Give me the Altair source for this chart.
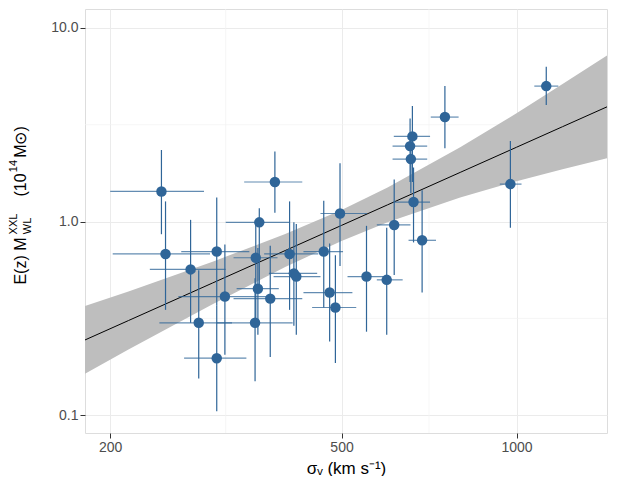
import altair as alt
import pandas as pd
import numpy as np

# velocity dispersion (km/s) and errors
sigma = [245, 249, 275, 305, 284, 305, 315, 361, 384, 356, 359, 355, 377, 407, 414, 418,
         466, 497, 477, 488, 552, 1125, 753, 662, 656, 658, 665, 688, 616, 598, 976]
sig_lo = [200, 202, 234, 265, 243, 268, 262, 316, 340, 326, 330, 305, 326, 368, 375, 382,
          430, 460, 430, 445, 512, 1073, 712, 615, 612, 612, 615, 652, 575, 575, 936]
sig_hi = [290, 297, 316, 347, 324, 343, 378, 407, 428, 388, 390, 412, 428, 456, 454, 460,
          503, 553, 522, 530, 592, 1180, 795, 710, 702, 702, 710, 727, 657, 637, 1020]
# E(z) M_WL (1e14 Msun) and errors
mass = [1.43, 0.68, 0.566, 0.70, 0.30, 0.197, 0.41, 0.99, 1.6, 0.65, 0.45, 0.30, 0.40, 0.68,
        0.54, 0.52, 0.70, 1.10, 0.43, 0.36, 0.52, 5.0, 3.46, 2.75, 2.45, 2.1, 1.26, 0.80,
        0.96, 0.50, 1.56]
m_lo = [0.86, 0.35, 0.30, 0.37, 0.155, 0.105, 0.205, 0.47, 1.11, 0.30, 0.26, 0.15, 0.20,
        0.35, 0.29, 0.26, 0.36, 0.59, 0.24, 0.186, 0.27, 4.0, 2.39, 1.6, 1.6, 1.4, 0.78,
        0.43, 0.53, 0.26, 0.93]
m_hi = [2.34, 1.27, 1.02, 1.33, 0.56, 0.37, 0.76, 1.17, 2.3, 1.0, 0.73, 0.51, 0.75, 1.27,
        0.99, 0.97, 1.28, 2.0, 0.77, 0.67, 0.95, 6.3, 5.0, 3.95, 3.4, 2.9, 1.9, 1.45, 1.65,
        0.93, 2.6]

# fit: log M = log(norm) + slope * log(sigma/500); band half width in dex
norm = 0.955
slope = 1.34
band_x = [181, 215, 300, 400, 500, 600, 800, 1000, 1200, 1431]
band_hw = [0.175, 0.15, 0.11, 0.085, 0.08, 0.09, 0.13, 0.175, 0.22, 0.265]

minor_x = [316, 707]
minor_y = [0.316, 3.16]

df = pd.DataFrame(dict(s=sigma, slo=sig_lo, shi=sig_hi, m=mass, mlo=m_lo, mhi=m_hi))
bx = np.array(band_x, dtype=float)
fit = norm * (bx / 500) ** slope
band = pd.DataFrame(dict(x=bx, y=fit, lo=fit / 10 ** np.array(band_hw),
                         hi=fit * 10 ** np.array(band_hw)))

xs = alt.Scale(type="log", domain=[181, 1431], nice=False)
ys = alt.Scale(type="log", domain=[0.081, 12.5], nice=False)
blue = "#2f6598"

xax = alt.Axis(values=[200, 500, 1000], format="d", title="σ\u1d65  (km s\u207b\u00b9)",
               titleFontSize=17, titleFontWeight="normal", titleColor="black",
               labelFontSize=14, labelColor="#4d4d4d", tickColor="#333",
               gridColor="#ebebeb", domain=False, titlePadding=6)
yax = alt.Axis(values=[0.1, 1, 10], format=".1f", title=None, labelFontSize=14,
               labelColor="#4d4d4d", tickColor="#333", gridColor="#ebebeb", domain=False)

base = alt.Chart(df)

mgx = alt.Chart(pd.DataFrame(dict(v=minor_x))).mark_rule(color="#f2f2f2", strokeWidth=0.7).encode(
    x=alt.X("v:Q", scale=xs, axis=xax))
mgy = alt.Chart(pd.DataFrame(dict(v=minor_y))).mark_rule(color="#f2f2f2", strokeWidth=0.7).encode(
    y=alt.Y("v:Q", scale=ys, axis=yax))

area = alt.Chart(band).mark_area(color="#bebebe", clip=True).encode(
    x=alt.X("x:Q", scale=xs), y=alt.Y("lo:Q", scale=ys), y2="hi:Q")
line = alt.Chart(band).mark_line(color="black", strokeWidth=1, clip=True).encode(
    x=alt.X("x:Q", scale=xs), y=alt.Y("y:Q", scale=ys))

hbar = base.mark_rule(color=blue, opacity=0.75, strokeWidth=1.2).encode(
    x=alt.X("slo:Q", scale=xs), x2="shi:Q", y=alt.Y("m:Q", scale=ys))
vbar = base.mark_rule(color=blue, strokeWidth=1.2).encode(
    x=alt.X("s:Q", scale=xs), y=alt.Y("mlo:Q", scale=ys), y2="mhi:Q")
pts = base.mark_circle(color=blue, opacity=1, size=110).encode(
    x=alt.X("s:Q", scale=xs), y=alt.Y("m:Q", scale=ys))

# y title with sub/superscripts
tdf = pd.DataFrame(dict(
    t=["E(z) M", "XXL", "WL", "(10", "14", "M\u2299)"],
    px=[-64, -71, -57, -64, -71, -64],
    py=[252, 215, 217, 176, 157, 133],
    fs=[16, 11, 11, 16, 11, 16]))
ytitle = alt.Chart(tdf).mark_text(angle=270, baseline="middle", align="center",
                                  color="black").encode(
    x=alt.value(0), y=alt.value(0), text="t:N",
    xOffset=alt.XOffset("px:Q", scale=None), yOffset=alt.YOffset("py:Q", scale=None),
    size=alt.Size("fs:Q", scale=None, legend=None))

chart = alt.layer(mgx, mgy, area, line, hbar, vbar, pts, ytitle).properties(
    width=522, height=424,
    padding={"left": 0, "top": 0, "right": 0, "bottom": 0}
).configure_view(stroke="#333", strokeWidth=1).configure(
    font="Liberation Sans")

chart.save("out.html", embed_options={"renderer": "svg", "actions": False})
